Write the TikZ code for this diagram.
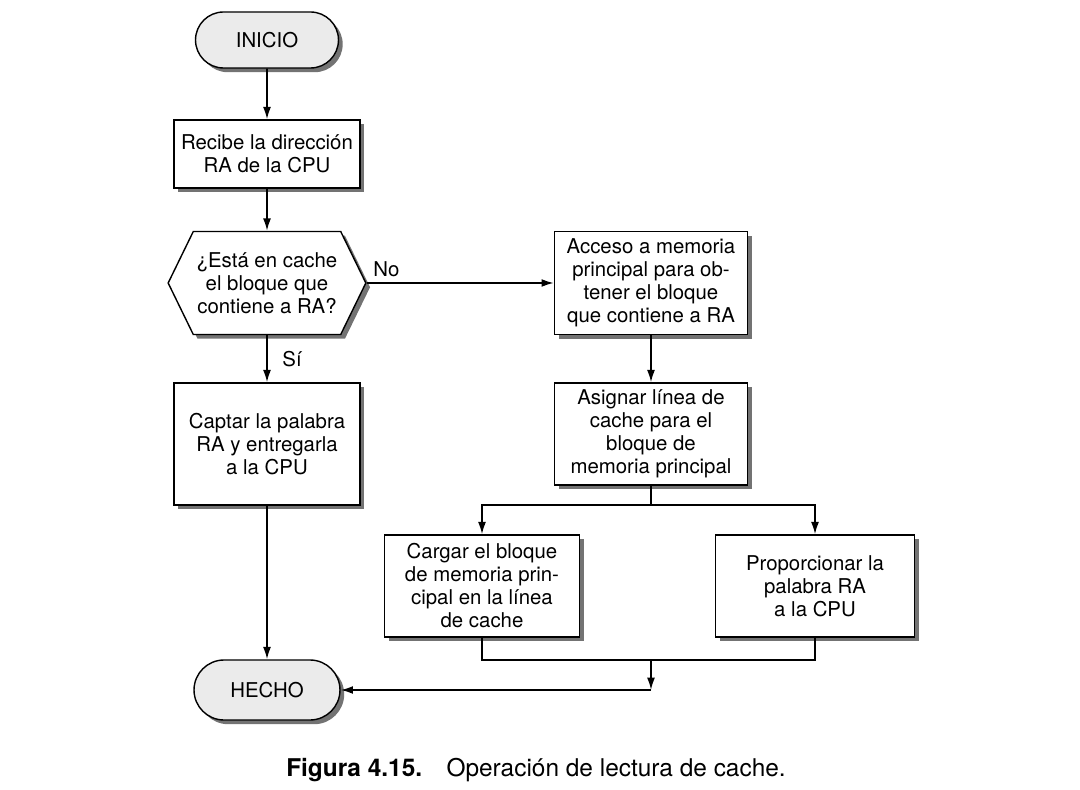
\documentclass[tikz,border=0pt]{standalone}
\usepackage{fontspec}
\setmainfont{TeX Gyre Heros}
\usetikzlibrary{shapes.misc,shapes.symbols,shadows,arrows.meta}

\tikzset{
  caja/.style={draw,line width=0.8pt,fill=white,align=center,inner sep=2pt,
    font=\fontsize{11.6}{13.1}\selectfont,
    drop shadow={shadow xshift=2.4pt,shadow yshift=-2.4pt,fill=black!55,opacity=1}},
  terminal/.style={caja,rounded rectangle,fill=black!8},
  decision/.style={caja,signal,signal to=west and east,signal pointer angle=128},
  flecha/.style={line width=0.95pt,-{Latex[length=7pt,width=4.5pt]}},
  linea/.style={line width=0.95pt},
  etiqueta/.style={font=\fontsize{11.6}{13.1}\selectfont},
}

\begin{document}
\begin{tikzpicture}
		\def\xl{5.34}
		\def\xr{13.02}
		\useasboundingbox (0,0) rectangle (21.6,-15.8);
		% columna izquierda
		\node[terminal,minimum width=3.0cm,minimum height=1.12cm] (inicio) at (\xl,-0.8) {INICIO};
		\node[caja,minimum width=3.72cm,minimum height=1.36cm] (recibe) at (\xl,-3.08) {Recibe la dirección\\RA de la CPU};
		\node[decision,minimum width=3.88cm,minimum height=2.06cm] (esta) at (\xl,-5.66) {¿Está en cache\\el bloque que\\contiene a RA?};
		\node[caja,minimum width=3.72cm,minimum height=2.44cm] (captar) at (\xl,-8.88) {Captar la palabra\\RA y entregarla\\a la CPU};
		\node[terminal,minimum width=3.06cm,minimum height=1.2cm] (hecho) at (\xl,-13.8) {HECHO};
		% columna derecha
		\node[caja,minimum width=3.86cm,minimum height=2.06cm] (acceso) at (\xr,-5.66) {Acceso a memoria\\principal para ob-\\tener el bloque\\que contiene a RA};
		\node[caja,minimum width=3.86cm,minimum height=2.04cm] (asignar) at (\xr,-8.68) {Asignar línea de\\cache para el\\bloque de\\memoria principal};
		\node[caja,minimum width=3.9cm,minimum height=2.04cm] (cargar) at (9.64,-11.72) {Cargar el bloque\\de memoria prin-\\cipal en la línea\\de cache};
		\node[caja,minimum width=3.98cm,minimum height=2.04cm] (proporcionar) at (16.3,-11.72) {Proporcionar la\\palabra RA\\a la CPU};
		% pie de figura
		\node[font=\fontsize{13.9}{16}\selectfont] (pie) at (10.72,-15.4) {\textbf{Figura 4.15.}\hspace{1em}Operación de lectura de cache.};
		% conectores
		\draw[flecha] (inicio) -- (recibe);
		\draw[flecha] (recibe) -- (esta);
		\draw[flecha] (esta.east) -- node[etiqueta,above right,pos=0] {No} (acceso.west);
		\draw[flecha] (esta) -- node[etiqueta,right,xshift=5pt] {Sí} (captar);
		\draw[flecha] (captar) -- (hecho);
		\draw[flecha] (acceso) -- (asignar);
		\coordinate (rama) at (\xr,-10.1);
		\draw[linea] (asignar.south) -- (rama);
		\draw[flecha] (rama) -| (cargar.north);
		\draw[flecha] (rama) -| (proporcionar.north);
		\coordinate (junta) at (\xr,-13.2);
		\coordinate (llega) at (\xr,-13.8);
		\draw[linea] (cargar.south) |- (junta) -| (proporcionar.south);
		\draw[flecha] (junta) -- (llega);
		\draw[flecha] (llega) -- (hecho.east);
\end{tikzpicture}
\end{document}
